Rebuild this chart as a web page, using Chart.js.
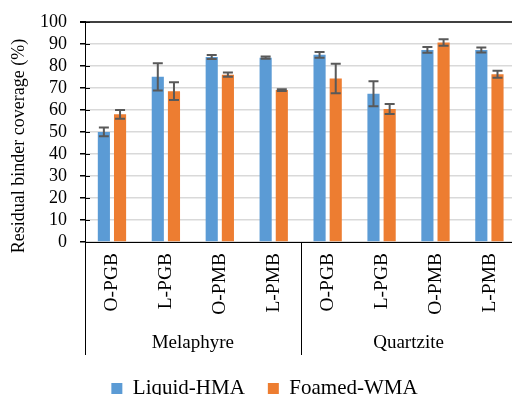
<!DOCTYPE html>
<html>
<head>
<meta charset="utf-8">
<script src="https://cdn.jsdelivr.net/npm/chart.js@4/dist/chart.umd.min.js"></script>
<style>
  body { margin: 0; overflow: hidden; background: #fff; }
  #wrap { width: 524px; height: 411px; margin-top: -2px; }
</style>
</head>
<body>
<div id="wrap"><canvas id="chart"></canvas></div>
<script>
// categories and groups
const categories = ['O-PGB', 'L-PGB', 'O-PMB', 'L-PMB', 'O-PGB', 'L-PGB', 'O-PMB', 'L-PMB'];
const groups = ['Melaphyre', 'Quartzite'];
const yTitle = 'Residual binder coverage (%)';

// mean coverage (%) and error
const liquidHMA = [50, 75, 84, 83.7, 85, 67.3, 87.2, 87.2];
const liquidErr = [2, 6.2, 0.9, 0.5, 1.3, 5.7, 1.3, 1.1];
const foamedWMA = [58, 68.5, 76, 69, 74.2, 60.4, 90.6, 76.2];
const foamedErr = [2, 4, 1, 0.4, 6.7, 2.3, 1.5, 1.6];

const yTicks = { min: 0, max: 100, step: 10 };

const serif = 'Liberation Serif, Times New Roman, serif';

// error bars, inner tick marks, group separators, y title
const extras = {
    id: 'extras',
    afterDatasetsDraw(chart) {
        const ctx = chart.ctx;
        const y = chart.scales.y;
        const errs = [liquidErr, foamedErr];
        const vals = [liquidHMA, foamedWMA];
        ctx.save();
        ctx.strokeStyle = '#595959';
        ctx.lineWidth = 2;
        chart.data.datasets.forEach((ds, d) => {
            chart.getDatasetMeta(d).data.forEach((bar, i) => {
                const hi = y.getPixelForValue(vals[d][i] + errs[d][i]);
                const lo = y.getPixelForValue(vals[d][i] - errs[d][i]);
                ctx.beginPath();
                ctx.moveTo(bar.x, hi); ctx.lineTo(bar.x, lo);
                ctx.moveTo(bar.x - 5, hi); ctx.lineTo(bar.x + 5, hi);
                ctx.moveTo(bar.x - 5, lo); ctx.lineTo(bar.x + 5, lo);
                ctx.stroke();
            });
        });
        ctx.restore();
    },
    afterDraw(chart) {
        const ctx = chart.ctx;
        const x = chart.scales.x;
        const x2 = chart.scales.x2;
        const y = chart.scales.y;
        const area = chart.chartArea;
        ctx.save();
        ctx.strokeStyle = '#000';
        ctx.lineWidth = 1;
        y.ticks.forEach(t => {
            const py = Math.round(y.getPixelForValue(t.value)) + 0.5;
            ctx.beginPath();
            ctx.moveTo(area.left, py);
            ctx.lineTo(area.left + 5, py);
            ctx.stroke();
        });
        const n = categories.length;
        const w = (x.right - x.left) / n;
        [0, 4, 8].forEach(k => {
            const px = Math.round(x.left + k * w) + 0.5;
            ctx.beginPath();
            ctx.moveTo(px, area.bottom);
            ctx.lineTo(px, x2.bottom);
            ctx.stroke();
        });
        // axis title, set a little below the plot centre as in the original
        ctx.translate(19, area.bottom - 96);
        ctx.rotate(-Math.PI / 2);
        ctx.fillStyle = '#000';
        ctx.font = '18px ' + serif;
        ctx.textAlign = 'center';
        ctx.textBaseline = 'middle';
        ctx.fillText(yTitle, 0, 0);
        ctx.restore();
    }
};

new Chart(document.getElementById('chart'), {
    type: 'bar',
    data: {
        labels: categories,
        datasets: [
            { label: 'Liquid-HMA', data: liquidHMA, backgroundColor: '#5B9BD5' },
            { label: 'Foamed-WMA', data: foamedWMA, backgroundColor: '#ED7D31' }
        ]
    },
    options: {
        responsive: true,
        maintainAspectRatio: false,
        animation: false,
        categoryPercentage: 0.6,
        barPercentage: 0.75,
        layout: { padding: { top: 6, right: 3, left: 8, bottom: 0 } },
        plugins: {
            tooltip: { enabled: false },
            legend: {
                position: 'bottom',
                labels: {
                    color: '#000',
                    font: { family: serif, size: 21 },
                    boxWidth: 11, boxHeight: 11,
                    padding: 23
                }
            }
        },
        scales: {
            x: {
                afterFit: s => { s.height = 72; },
                grid: { display: false, drawTicks: false },
                border: { color: '#000', width: 1 },
                ticks: {
                    color: '#000', minRotation: 90, maxRotation: 90,
                    padding: 11,
                    font: { family: serif, size: 19.5 }
                }
            },
            x2: {
                type: 'category',
                labels: groups,
                position: 'bottom',
                offset: true,
                afterFit: s => { s.height = 41; },
                grid: { display: false, drawTicks: false },
                border: { display: false },
                ticks: {
                    color: '#000', padding: 18,
                    font: { family: serif, size: 19 }
                }
            },
            y: {
                min: yTicks.min, max: yTicks.max,
                afterFit: s => { s.width = 77; },
                ticks: {
                    stepSize: yTicks.step, autoSkip: false, color: '#000', padding: 13,
                    font: { family: serif, size: 18 }
                },
                grid: {
                    color: c => c.tick && c.tick.value === 100 ? '#404040' : '#d9d9d9',
                    lineWidth: c => c.tick && c.tick.value === 100 ? 2 : 1.5,
                    tickColor: '#000', tickLength: 5
                },
                border: { color: '#000', width: 1 }
            }
        }
    },
    plugins: [extras]
});
</script>
</body>
</html>
